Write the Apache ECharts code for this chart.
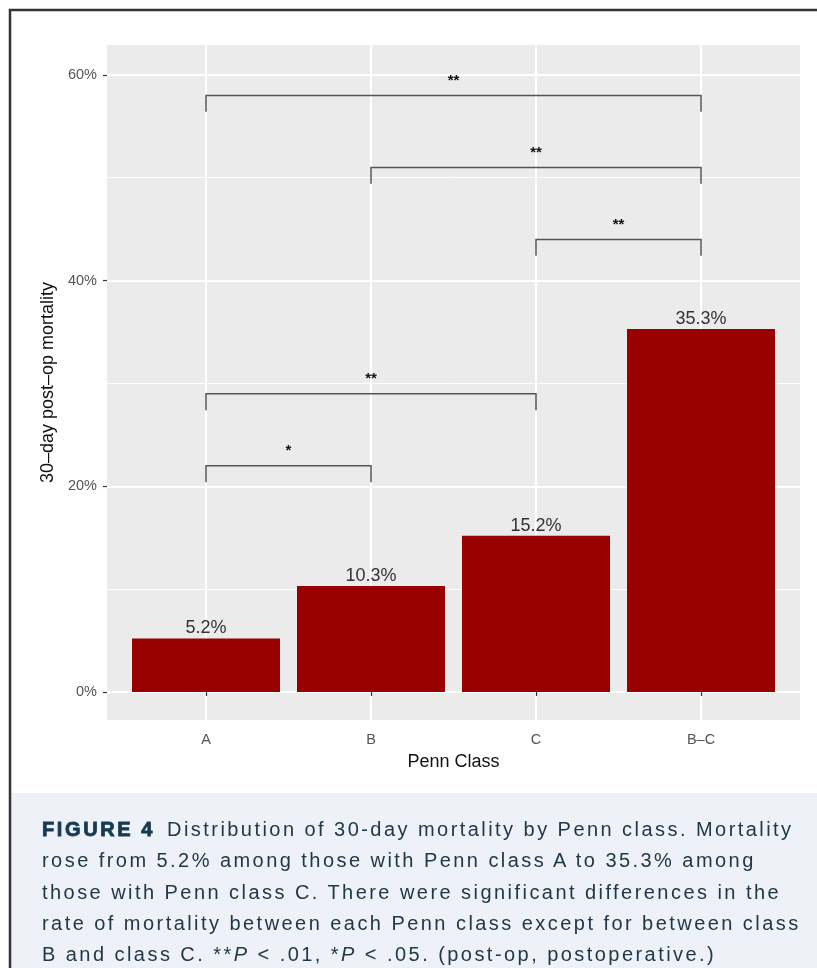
<!DOCTYPE html>
<html>
<head>
<meta charset="utf-8">
<script src="https://cdn.jsdelivr.net/npm/echarts@6/dist/echarts.min.js"></script>
<style>
  body { margin: 0; background: #fff; }
  #wrap { position: relative; width: 817px; height: 968px; overflow: hidden; }
  #main { position: absolute; left: 0; top: 0; width: 817px; height: 968px; }
  #caption {
    position: absolute; left: 42px; top: 814px; width: 775px;
    font-family: "Liberation Sans", Arial, sans-serif; font-size: 20px;
    line-height: 31.25px; letter-spacing: 2.45px; color: #203848; white-space: pre;
  }
  #caption b { font-weight: 700; color: #163a50; letter-spacing: 2.6px; margin-right: 4px; -webkit-text-stroke: 0.8px #163a50; }
</style>
</head>
<body>
<div id="wrap">
  <div id="main"></div>
  <div id="caption"><b>FIGURE 4</b> Distribution of 30-day mortality by Penn class. Mortality
rose from 5.2% among those with Penn class A to 35.3% among
those with Penn class C. There were significant differences in the
rate of mortality between each Penn class except for between class
B and class C. **<i>P</i> &lt; .01, *<i>P</i> &lt; .05. (post-op, postoperative.)</div>
</div>
<script>
// 数据
var categories = ['A', 'B', 'C', 'B–C'];
var mortality = [5.2, 10.3, 15.2, 35.3];
var yTicks = [0, 20, 40, 60];
var yMinor = [10, 30, 50];
// 显著性比较
var pairFrom = [1, 1, 3, 2, 1];
var pairTo = [2, 3, 4, 4, 4];
var pairHeight = [22.0, 29.0, 44.0, 51.0, 58.0];
var pairStars = ['*', '**', '**', '**', '**'];
var tickDrop = 1.6;

var chart = echarts.init(document.getElementById('main'), null, { renderer: 'canvas' });

var barData = mortality.map(function (v, i) { return [i + 1, v]; });
var pairData = pairFrom.map(function (f, i) { return [f, pairTo[i], pairHeight[i]]; });
var font = '"Liberation Sans", Arial, sans-serif';

var option = {
  animation: false,
  textStyle: { fontFamily: font },
  graphic: [
    { type: 'rect', shape: { x: 11, y: 793, width: 806, height: 175 }, style: { fill: '#EEF2F8' }, silent: true },
    { type: 'polyline', shape: { points: [[10, 968], [10, 10], [817, 10]] }, style: { stroke: '#333', lineWidth: 2.5, fill: null }, silent: true }
  ],
  grid: {
    left: 107, right: 17, top: 45, bottom: 248,
    show: true, backgroundColor: '#EBEBEB', borderWidth: 0
  },
  xAxis: {
    type: 'value', min: 0.4, max: 4.6,
    name: 'Penn Class', nameLocation: 'middle', nameGap: 33,
    nameTextStyle: { fontSize: 18, color: '#111', fontFamily: font },
    axisLine: { show: false },
    axisTick: { show: true, length: 4, customValues: [1, 2, 3, 4], lineStyle: { color: '#333', width: 1.2 } },
    axisLabel: {
      customValues: [1, 2, 3, 4], margin: 12, fontSize: 14.5, color: '#555',
      formatter: function (v) { return categories[v - 1]; }
    },
    splitLine: { show: true, lineStyle: { color: '#fff', width: 2 } }
  },
  yAxis: [{
    type: 'value', min: -2.72, max: 62.9,
    name: '30–day post–op mortality', nameLocation: 'middle', nameGap: 48,
    nameTextStyle: { fontSize: 18, color: '#111', fontFamily: font },
    axisLine: { show: false },
    axisTick: { show: true, length: 4, customValues: yTicks, lineStyle: { color: '#333', width: 1.2 } },
    axisLabel: {
      customValues: yTicks, margin: 10, fontSize: 14.5, color: '#555',
      formatter: function (v) { return v + '%'; }
    },
    splitLine: { show: true, lineStyle: { color: '#fff', width: 2 } }
  }, {
    type: 'value', min: -2.72, max: 62.9, position: 'left',
    axisLine: { show: false },
    axisTick: { show: false, customValues: yMinor },
    axisLabel: { show: false, customValues: yMinor },
    splitLine: { show: true, lineStyle: { color: '#fff', width: 1 } }
  }],
  series: [{
    type: 'bar',
    data: barData,
    barWidth: 148,
    itemStyle: { color: '#990000' },
    label: {
      show: true, position: 'top', distance: 1,
      fontSize: 18, color: '#333',
      formatter: function (p) { return p.value[1].toFixed(1) + '%'; }
    }
  }, {
    type: 'custom',
    data: pairData,
    z: 5,
    renderItem: function (params, api) {
      var x1 = api.value(0), x2 = api.value(1), y = api.value(2);
      var p1 = api.coord([x1, y]), p2 = api.coord([x2, y]);
      var b1 = api.coord([x1, y - tickDrop]), b2 = api.coord([x2, y - tickDrop]);
      return {
        type: 'group',
        children: [{
          type: 'polyline',
          shape: { points: [b1, p1, p2, b2] },
          style: { stroke: '#555', lineWidth: 1.5, fill: null }
        }, {
          type: 'text',
          style: {
            text: pairStars[params.dataIndex],
            x: (p1[0] + p2[0]) / 2, y: p1[1] - 15,
            align: 'center', verticalAlign: 'middle',
            font: 'bold 15px ' + font, fill: '#111'
          }
        }]
      };
    }
  }]
};
chart.setOption(option);
</script>
</body>
</html>
